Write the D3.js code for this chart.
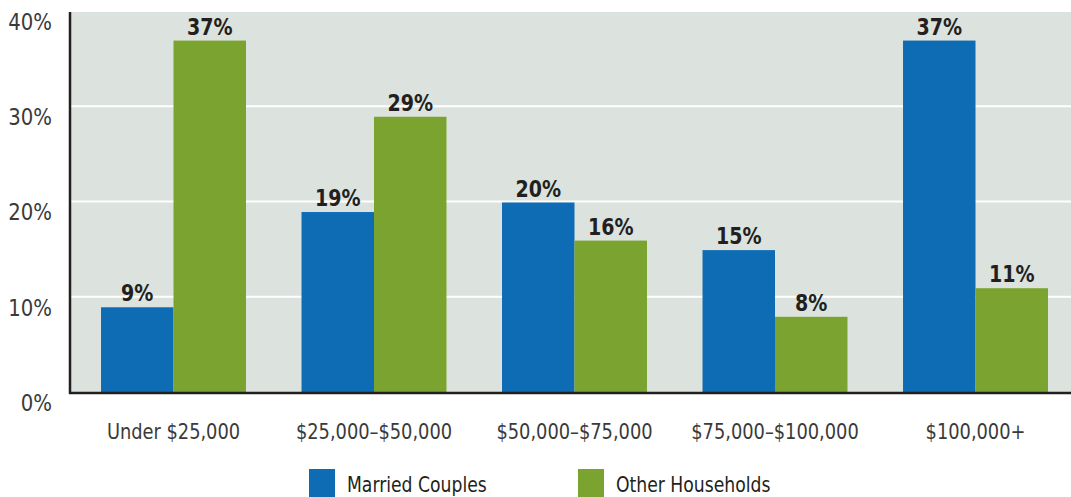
<!DOCTYPE html>
<html><head><meta charset="utf-8">
<script src="https://cdn.jsdelivr.net/npm/d3@7"></script>
<style>
html,body{margin:0;padding:0;background:#fff;}
svg text{font-family:"DejaVu Sans Condensed","Open Sans",sans-serif;}
</style></head>
<body><svg id="c" width="1071" height="497"></svg>
<script>
const categories = ["Under $25,000","$25,000\u2013$50,000","$50,000\u2013$75,000","$75,000\u2013$100,000","$100,000+"];
const seriesNames = ["Married Couples","Other Households"];
const married = [9,19,20,15,37];
const other = [37,29,16,8,11];
const yTicks = [0,10,20,30,40];
const colors = ["#0e6cb5","#7aa32f"];

const svg = d3.select("#c");
const plot = {left:70, right:1071, top:12, bottom:393};
const x = d3.scaleBand().domain(categories).range([73.25,1075.75]).paddingInner(0.277).paddingOuter(0.1385);
const x1 = d3.scaleBand().domain(seriesNames).range([0,x.bandwidth()]);
const y = d3.scaleLinear().domain([0,40]).range([plot.bottom,plot.top]);

function squeeze(sel, f){
  sel.each(function(){ const w=this.getComputedTextLength(); d3.select(this).attr("textLength",w*f).attr("lengthAdjust","spacingAndGlyphs"); });
}

svg.append("rect").attr("x",plot.left).attr("y",plot.top).attr("width",plot.right-plot.left).attr("height",plot.bottom-plot.top).attr("fill","#dce2dd");
svg.selectAll("line.grid").data(yTicks.filter(d=>d>0&&d<40)).enter().append("line")
  .attr("x1",plot.left).attr("x2",plot.right).attr("y1",d=>y(d)-1).attr("y2",d=>y(d)-1)
  .attr("stroke","#fff").attr("stroke-width",2);

const data = categories.map((c,i)=>({c, vals:[married[i],other[i]]}));
const g = svg.selectAll("g.grp").data(data).enter().append("g").attr("transform",d=>`translate(${x(d.c)},0)`);
g.selectAll("rect").data(d=>d.vals.map((v,j)=>({v,s:seriesNames[j],j}))).enter().append("rect")
  .attr("x",d=>x1(d.s)).attr("width",x1.bandwidth()).attr("y",d=>y(d.v)).attr("height",d=>y(0)-y(d.v)).attr("fill",d=>colors[d.j]);
const vl = g.selectAll("text").data(d=>d.vals.map((v,j)=>({v,s:seriesNames[j],j}))).enter().append("text")
  .attr("x",d=>x1(d.s)+x1.bandwidth()/2).attr("y",d=>y(d.v)-6).attr("text-anchor","middle")
  .attr("font-size",23).attr("font-weight","bold").attr("fill","#231f20").text(d=>d.v+"%");
squeeze(vl,0.92);

// axes
const yAxis = d3.axisLeft(y).tickValues(yTicks).tickSize(0).tickFormat(d=>d+"%");
const ya = svg.append("g").attr("transform",`translate(${plot.left-18},0)`).call(yAxis);
ya.select(".domain").remove();
ya.selectAll("text").attr("font-size",23).attr("fill","#3a3a3a").attr("dy","0.71em").attr("x",0).attr("y",1);
squeeze(ya.selectAll("text"),0.95);
svg.append("line").attr("x1",plot.left).attr("x2",plot.left).attr("y1",plot.top).attr("y2",plot.bottom+1).attr("stroke","#231f20").attr("stroke-width",2.5);
svg.append("line").attr("x1",plot.left-1).attr("x2",plot.right).attr("y1",plot.bottom).attr("y2",plot.bottom).attr("stroke","#231f20").attr("stroke-width",2.5);

const xAxis = d3.axisBottom(x).tickSize(0);
const xa = svg.append("g").attr("transform",`translate(0,${plot.bottom})`).call(xAxis);
xa.select(".domain").remove();
xa.selectAll("text").attr("font-size",22).attr("fill","#3a3a3a").attr("y",46).attr("dy",0);
squeeze(xa.selectAll("text"),0.9);

// legend
const lx = [309,578];
const leg = svg.selectAll("g.leg").data(seriesNames).enter().append("g").attr("transform",(d,i)=>`translate(${lx[i]},469)`);
leg.append("rect").attr("width",26).attr("height",30).attr("fill",(d,i)=>colors[i]);
const lt = leg.append("text").attr("x",38).attr("y",23).attr("font-size",22).attr("fill","#231f20").text(d=>d);
squeeze(lt,0.87);
</script></body></html>
